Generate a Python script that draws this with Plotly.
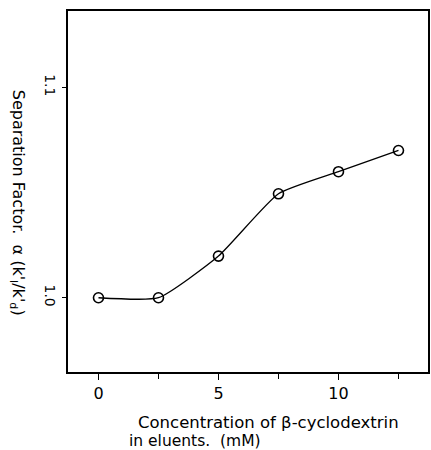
import plotly.graph_objects as go

conc = [0, 2.5, 5, 7.5, 10, 12.5]
alpha = [1.000, 1.000, 1.0198, 1.0494, 1.0599, 1.0700]
x_ticks = [0, 5, 10]
x_minor = [2.5, 7.5, 12.5]
y_ticks = [1.0, 1.1]
y_tick_labels = ["1.0", "1.1"]

FONT = "DejaVu Sans"

fig = go.Figure()
fig.add_trace(go.Scatter(
    x=conc, y=alpha, mode="lines+markers",
    line=dict(color="black", width=1.3, shape="spline", smoothing=0.5),
    marker=dict(symbol="circle-open", size=10, color="black", line=dict(width=1.6)),
    showlegend=False,
))

fig.update_layout(
    width=431, height=450,
    margin=dict(l=68, r=1, t=11, b=78),
    paper_bgcolor="white", plot_bgcolor="white",
    font=dict(family=FONT, color="black", size=14),
    xaxis=dict(
        range=[-1.27, 13.73], tickvals=x_ticks, ticktext=[str(v) for v in x_ticks],
        ticks="outside", ticklen=6, tickwidth=1.2, tickcolor="black",
        minor=dict(tickvals=x_minor, ticks="outside", ticklen=5, tickcolor="black"),
        showline=True, linecolor="black", linewidth=1.5, mirror=True,
        showgrid=False, zeroline=False, tickfont=dict(size=16, family=FONT),
    ),
    yaxis=dict(
        range=[0.9647, 1.1363], tickvals=y_ticks, ticktext=y_tick_labels,
        ticks="outside", ticklen=4, tickwidth=1.2, tickcolor="black", tickangle=90,
        showline=True, linecolor="black", linewidth=1.5, mirror=True,
        showgrid=False, zeroline=False, tickfont=dict(size=14, family=FONT),
    ),
)

fig.add_annotation(
    text="Separation Factor.  α (k'<sub>l</sub>/k'<sub>d</sub>)",
    xref="paper", yref="paper", x=-0.14, y=0.47, xanchor="center", yanchor="middle",
    textangle=90, showarrow=False, font=dict(size=16, family=FONT),
)
fig.add_annotation(
    text="Concentration of β-cyclodextrin",
    xref="paper", yref="paper", x=(136 - 68) / 362, y=-(422 - 372) / 361,
    xanchor="left", yanchor="middle", showarrow=False, font=dict(size=16.5, family=FONT),
)
fig.add_annotation(
    text="in eluents.  (mM)",
    xref="paper", yref="paper", x=(127 - 68) / 362, y=-(441 - 372) / 361,
    xanchor="left", yanchor="middle", showarrow=False, font=dict(size=15.5, family=FONT),
)

fig.write_html("out.html")
